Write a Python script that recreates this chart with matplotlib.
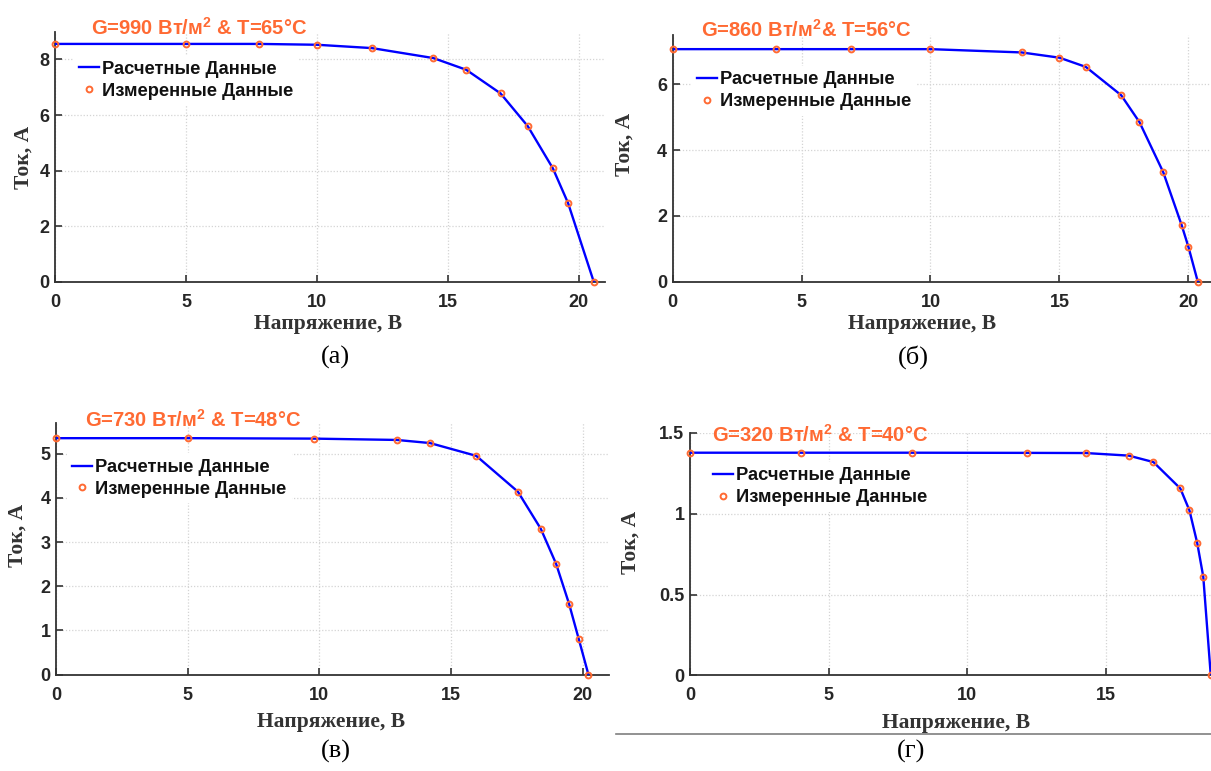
import matplotlib
matplotlib.use("Agg")
import matplotlib.pyplot as plt
from matplotlib.lines import Line2D
from matplotlib.font_manager import FontProperties

# ---------------- data ----------------
v_a = [0.0, 5.0, 7.8, 10.0, 12.1, 14.45, 15.70, 17.01, 18.05, 19.01, 19.59, 20.57]
i_a = [8.56, 8.56, 8.56, 8.53, 8.41, 8.05, 7.63, 6.78, 5.60, 4.08, 2.83, 0.0]

v_b = [0.0, 4.0, 6.9, 10.0, 13.53, 15.0, 16.02, 17.39, 18.10, 19.02, 19.73, 20.0, 20.36]
i_b = [7.07, 7.07, 7.07, 7.07, 6.97, 6.81, 6.53, 5.67, 4.85, 3.33, 1.73, 1.05, 0.0]

v_c = [0.0, 5.03, 9.78, 12.94, 14.2, 15.96, 17.54, 18.41, 18.99, 19.48, 19.85, 20.22]
i_c = [5.35, 5.35, 5.34, 5.31, 5.24, 4.95, 4.14, 3.30, 2.51, 1.61, 0.81, 0.0]

v_d = [0.0, 4.0, 8.0, 12.16, 14.28, 15.84, 16.73, 17.70, 18.03, 18.31, 18.53, 18.80]
i_d = [1.378, 1.378, 1.378, 1.377, 1.376, 1.36, 1.32, 1.157, 1.021, 0.82, 0.61, 0.0]

titles = ["G=990 Вт/м$^2$ & T=65°C",
          "G=860 Вт/м$^2$& T=56°C",
          "G=730 Вт/м$^2$ & T=48°C",
          "G=320 Вт/м$^2$ & T=40°C"]
captions = ["(а)", "(б)", "(в)", "(г)"]
x_label = "Напряжение, В"
y_label = "Ток, А"
legend_labels = ["Расчетные Данные", "Измеренные Данные"]

x_ticks = [0, 5, 10, 15, 20]
x_ticks_d = [0, 5, 10, 15]
y_ticks_a = [0, 2, 4, 6, 8]
y_ticks_b = [0, 2, 4, 6]
y_ticks_c = [0, 1, 2, 3, 4, 5]
y_ticks_d = [0, 0.5, 1, 1.5]
y_ticklabels_d = ["0", "0.5", "1", "1.5"]

# ---------------- style ----------------
plt.rcParams["mathtext.fontset"] = "custom"
plt.rcParams["mathtext.rm"] = "Liberation Sans:bold"
plt.rcParams["mathtext.it"] = "Liberation Sans:bold"
plt.rcParams["mathtext.bf"] = "Liberation Sans:bold"

ORANGE = "#FF6A33"
BLUE = "#0000FF"
SPINE = "#333333"
W, H = 1211, 771

sans_tick = FontProperties(family="Liberation Sans", weight="bold", size=13)
sans_leg = FontProperties(family="Liberation Sans", weight="bold", size=13.2)
sans_title = FontProperties(family="Liberation Sans", weight="bold", size=14.5)
serif_lab = FontProperties(family="Liberation Serif", weight="bold", size=15.5)
serif_cap = FontProperties(family="Liberation Serif", size=19)

fig = plt.figure(figsize=(W / 100, H / 100), dpi=100)
fig.patch.set_facecolor("white")

# layout in pixels: left, right, bottom, top
panels = [
    dict(v=v_a, i=i_a, box=(55, 605, 281.7, 31.7), xlim=(0, 21), ylim=(0, 9),
         xt=x_ticks, yt=y_ticks_a, ytl=None, title=titles[0],
         tpos=(0.066, 1.014), xl=(0.4964, -0.170), yl=(-0.0564, 0.4968),
         leg=(0.034, 0.906), cap=(335, 357)),
    dict(v=v_b, i=i_b, box=(672.5, 1214.3, 281.7, 35), xlim=(0, 21), ylim=(0, 7.5),
         xt=x_ticks, yt=y_ticks_b, ytl=None, title=titles[1],
         tpos=(0.052, 1.020), xl=(0.4605, -0.172), yl=(-0.0877, 0.558),
         leg=(0.035, 0.875), cap=(913, 357)),
    dict(v=v_c, i=i_c, box=(56, 609, 674.7, 422.7), xlim=(0, 21), ylim=(0, 5.7),
         xt=x_ticks, yt=y_ticks_c, ytl=None, title=titles[2],
         tpos=(0.053, 1.011), xl=(0.4973, -0.188), yl=(-0.0696, 0.551),
         leg=(0.019, 0.878), cap=(336, 751)),
    dict(v=v_d, i=i_d, box=(690, 1244, 675.3, 433), xlim=(0, 20), ylim=(0, 1.5),
         xt=x_ticks_d, yt=y_ticks_d, ytl=y_ticklabels_d, title=titles[3],
         tpos=(0.039, 0.992), xl=(0.4794, -0.195), yl=(-0.1065, 0.548),
         leg=(0.031, 0.882), cap=(911, 751)),
]

for k, p in enumerate(panels):
    l, r, b, t = p["box"]
    ax = fig.add_axes([l / W, 1 - b / H, (r - l) / W, (b - t) / H])
    ax.set_xlim(*p["xlim"])
    ax.set_ylim(*p["ylim"])
    ax.set_xticks(p["xt"])
    ax.set_yticks(p["yt"])
    if p["ytl"] is not None:
        ax.set_yticklabels(p["ytl"])
    for s in ("top", "right"):
        ax.spines[s].set_visible(False)
    for s in ("left", "bottom"):
        ax.spines[s].set_color(SPINE)
        ax.spines[s].set_linewidth(1.3)
    ax.tick_params(axis="both", direction="in", length=4.8, width=1.2, color=SPINE,
                   labelcolor="#262626")
    ax.tick_params(axis="x", pad=8.5)
    ax.tick_params(axis="y", pad=4)
    for lab in ax.get_xticklabels() + ax.get_yticklabels():
        lab.set_fontproperties(sans_tick)
    ax.grid(True, color="#d4d4d4", linestyle=(0, (1, 1.5)), linewidth=0.9)
    ax.set_axisbelow(True)

    h1, = ax.plot(p["v"], p["i"], color=BLUE, lw=1.7, zorder=3,
                  label=legend_labels[0])
    h2, = ax.plot(p["v"], p["i"], ls="none", marker="o", ms=4.2, mfc="none",
                  mec=ORANGE, mew=1.4, zorder=4, clip_on=False,
                  label=legend_labels[1])

    leg = ax.legend(handles=[h1, h2], loc="upper left", bbox_to_anchor=p["leg"],
                    borderaxespad=0, borderpad=0.3, handlelength=1.1,
                    handletextpad=0.15, labelspacing=0.27, numpoints=1,
                    frameon=True, fancybox=False, framealpha=1, prop=sans_leg)
    leg.get_frame().set_edgecolor("none")
    leg.get_frame().set_facecolor("white")
    for txt in leg.get_texts():
        txt.set_color("#111111")

    ax.text(p["tpos"][0], p["tpos"][1], p["title"], transform=ax.transAxes,
            ha="left", va="center", color=ORANGE, fontproperties=sans_title,
            zorder=6, clip_on=False)

    ax.set_xlabel(x_label, fontproperties=serif_lab, color="#333333",
                  va="center", ha="center")
    ax.xaxis.set_label_coords(*p["xl"])
    ax.set_ylabel(y_label, fontproperties=serif_lab, color="#333333",
                  va="center", ha="center")
    ax.yaxis.set_label_coords(*p["yl"])

    fig.text(p["cap"][0] / W, 1 - p["cap"][1] / H, captions[k],
             ha="center", va="center", fontproperties=serif_cap, color="black")

# thin separator line under panel (г)
fig.add_artist(Line2D([616 / W, 1.0], [1 - 734.3 / H, 1 - 734.3 / H],
                      color="#7f7f7f", lw=1.2))

fig.savefig("out.png", dpi=100, facecolor="white")
